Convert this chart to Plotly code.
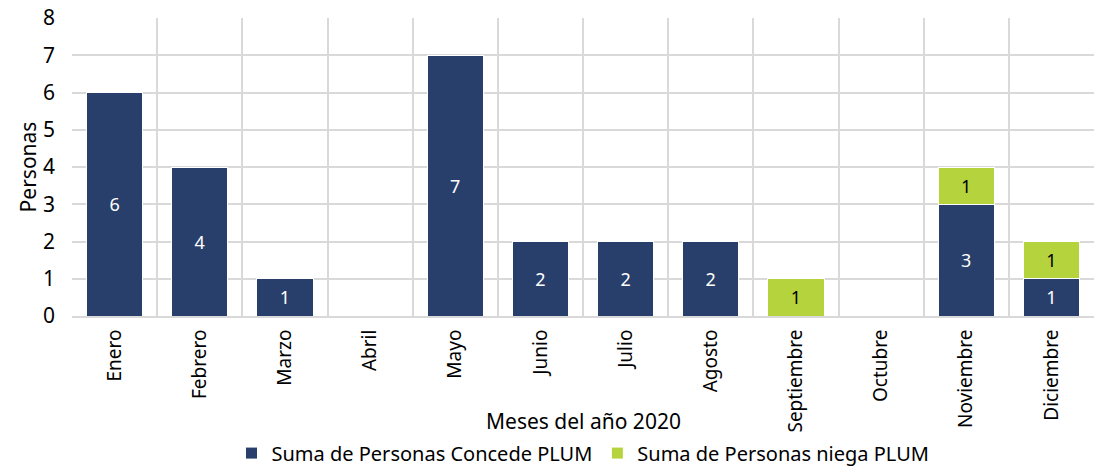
import plotly.graph_objects as go

meses = ["Enero", "Febrero", "Marzo", "Abril", "Mayo", "Junio", "Julio", "Agosto",
         "Septiembre", "Octubre", "Noviembre", "Diciembre"]
concede = [6, 4, 1, None, 7, 2, 2, 2, None, None, 3, 1]
niega = [None, None, None, None, None, None, None, None, 1, None, 1, 1]

FONT = "Noto Sans, Arial"

fig = go.Figure()
fig.add_trace(go.Bar(
    x=meses, y=concede, name="Suma de Personas Concede PLUM",
    marker=dict(color="#283F6B", line=dict(color="white", width=1)),
    text=[str(v) if v else "" for v in concede], textposition="inside",
    insidetextanchor="middle", textfont=dict(color="white", size=18, family=FONT),
))
fig.add_trace(go.Bar(
    x=meses, y=niega, name="Suma de Personas niega PLUM",
    marker=dict(color="#B5D33D", line=dict(color="white", width=1)),
    text=[str(v) if v else "" for v in niega], textposition="inside",
    insidetextanchor="middle", textfont=dict(color="black", size=18, family=FONT),
))

fig.update_layout(
    barmode="stack", bargap=0.34,
    width=1098, height=468,
    margin=dict(l=72, r=4, t=18, b=152, autoexpand=False),
    plot_bgcolor="white", paper_bgcolor="white",
    font=dict(family=FONT, size=18, color="black"),
    showlegend=True,
    legend=dict(orientation="h", x=0.5, xanchor="center", y=-0.46, yanchor="middle",
                font=dict(size=20), traceorder="normal", itemwidth=30,
                tracegroupgap=0),
    uniformtext=dict(minsize=10, mode="show"),
    annotations=[dict(text="Meses del año 2020", xref="paper", yref="paper",
                      x=0.5, y=-0.352, xanchor="center", yanchor="middle",
                      showarrow=False, font=dict(size=21))],
)
fig.update_xaxes(
    automargin=False,
    tickson="boundaries", showgrid=True, gridcolor="#D9D9D9", gridwidth=2,
    showline=True, linecolor="#D9D9D9", linewidth=2, mirror=False,
    tickangle=-90, ticks="", tickfont=dict(size=19), ticklabelstandoff=4,
)
fig.update_yaxes(
    automargin=False,
    range=[0, 8], dtick=1, showgrid=True, gridcolor="#D9D9D9", gridwidth=2,
    zeroline=False, ticks="", tickfont=dict(size=21), ticklabelstandoff=16,
    title=dict(text="Personas", font=dict(size=21), standoff=0),
)

fig.write_html("out.html", post_script="document.body.style.margin='0';",
               config={"displayModeBar": False})
